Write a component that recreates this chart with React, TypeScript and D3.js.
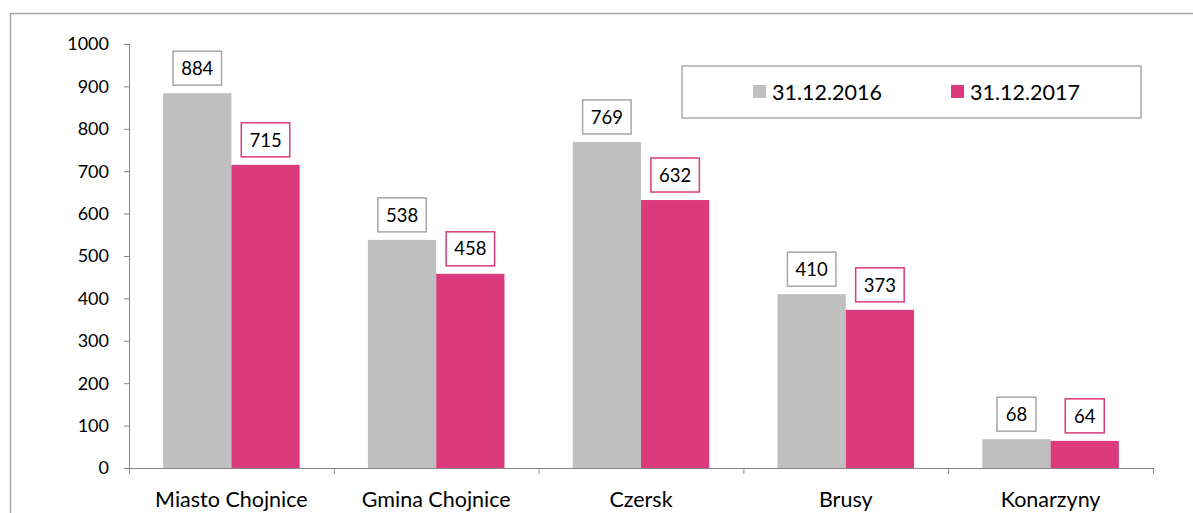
import React from "react";
import * as d3 from "d3";

const categories = ["Miasto Chojnice", "Gmina Chojnice", "Czersk", "Brusy", "Konarzyny"];
const seriesNames = ["31.12.2016", "31.12.2017"];
const values2016 = [884, 538, 769, 410, 68];
const values2017 = [715, 458, 632, 373, 64];
const yTicks = [0, 100, 200, 300, 400, 500, 600, 700, 800, 900, 1000];

const colors = ["#bfbfbf", "#db3b7c"];
const labelBorders = ["#a6a6a6", "#db3b7c"];
const font = "Lato, 'Open Sans', sans-serif";

const W = 1193;
const H = 513;
const plot = { left: 129, right: 1153, top: 44, bottom: 468 };

const App = () => {
  const x = d3.scaleBand<string>().domain(categories).range([plot.left, plot.right]);
  const y = d3.scaleLinear().domain([0, 1000]).range([plot.bottom, plot.top]);
  const bw = x.bandwidth();
  const barW = bw / 3;
  const groupOffset = (bw - 2 * barW) / 2;
  const series = [values2016, values2017];

  return (
    <svg
      width={W}
      height={H}
      style={{ position: "absolute", left: 0, top: 0, background: "#fff" }}
      fontFamily={font}
    >
      {/* outer chart frame */}
      <line x1={10} y1={13.5} x2={W} y2={13.5} stroke="#a6a6a6" strokeWidth={1.5} />
      <line x1={10.5} y1={13} x2={10.5} y2={H} stroke="#a6a6a6" strokeWidth={1.5} />

      {/* bars */}
      {series.map((vals, si) =>
        vals.map((v, i) => (
          <rect
            key={`b${si}-${i}`}
            x={(x(categories[i]) as number) + groupOffset + si * barW}
            y={y(v)}
            width={barW}
            height={y(0) - y(v)}
            fill={colors[si]}
          />
        ))
      )}

      {/* y axis */}
      <line x1={plot.left + 0.5} y1={y(1000)} x2={plot.left + 0.5} y2={y(0)} stroke="#868686" />
      {yTicks.map((t) => (
        <g key={`yt${t}`}>
          <line x1={plot.left - 5} y1={y(t) + 0.5} x2={plot.left} y2={y(t) + 0.5} stroke="#868686" />
          <text x={plot.left - 20} y={y(t)} dy="0.35em" textAnchor="end" fontSize={18} fill="#000">
            {t}
          </text>
        </g>
      ))}

      {/* x axis */}
      <line x1={plot.left} y1={y(0) + 0.5} x2={plot.right + 0.5} y2={y(0) + 0.5} stroke="#868686" />
      {[...categories.map((c) => x(c) as number), plot.right].map((px, i) => (
        <line key={`xt${i}`} x1={px + 0.5} y1={y(0)} x2={px + 0.5} y2={y(0) + 6} stroke="#868686" />
      ))}
      {categories.map((c) => (
        <text
          key={`xl${c}`}
          x={(x(c) as number) + bw / 2}
          y={y(0) + 39}
          textAnchor="middle"
          fontSize={21.5}
          fill="#000"
        >
          {c}
        </text>
      ))}

      {/* data labels */}
      {series.map((vals, si) =>
        vals.map((v, i) => {
          const cx = (x(categories[i]) as number) + groupOffset + si * barW + barW / 2;
          const txt = String(v);
          const boxW = txt.length * 9.5 + 20;
          const boxH = 34;
          const bottom = y(v) - 8;
          return (
            <g key={`l${si}-${i}`}>
              <rect
                x={cx - boxW / 2}
                y={bottom - boxH}
                width={boxW}
                height={boxH}
                fill="#fff"
                stroke={labelBorders[si]}
                strokeWidth={1.5}
              />
              <text x={cx} y={bottom - boxH / 2} dy="0.36em" textAnchor="middle" fontSize={18.5} fill="#000">
                {txt}
              </text>
            </g>
          );
        })
      )}

      {/* legend */}
      <rect x={682} y={66} width={459} height={52} fill="#fff" stroke="#bfbfbf" strokeWidth={2} />
      {seriesNames.map((s, i) => {
        const lx = [753, 951][i];
        return (
          <g key={`lg${s}`}>
            <rect x={lx} y={85} width={13} height={13} fill={colors[i]} />
            <text x={lx + 19} y={92} dy="0.36em" fontSize={21.5} fill="#000">
              {s}
            </text>
          </g>
        );
      })}
    </svg>
  );
};

export default App;
